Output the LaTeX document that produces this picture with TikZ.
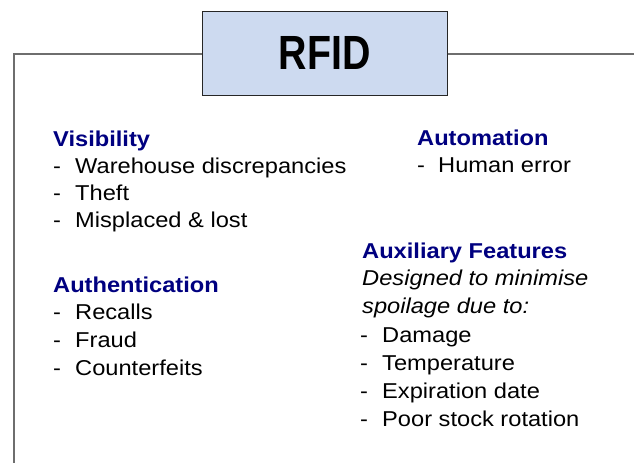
\documentclass[tikz,border=0pt]{standalone}
\usepackage{fontspec}
\setmainfont{Liberation Sans}
\newfontfamily\bodyfont[FakeStretch=1.1]{Liberation Sans}
\newfontfamily\titlefont[FakeStretch=0.82]{Liberation Sans}
\definecolor{headnavy}{RGB}{0,0,128}
\definecolor{boxfill}{RGB}{205,218,240}
\definecolor{frameline}{RGB}{110,110,110}
\newcommand{\dashitem}[1]{\makebox[22pt][l]{-}#1}
\begin{document}
\begin{tikzpicture}[x=1pt,y=-1pt,
  head/.style={anchor=base west, inner sep=0pt, text=headnavy, font=\bodyfont\fontsize{21.5}{26}\selectfont\bfseries},
  item/.style={anchor=base west, inner sep=0pt, text=black, font=\bodyfont\fontsize{21.5}{26}\selectfont},
  note/.style={anchor=base west, inner sep=0pt, text=black, font=\bodyfont\fontsize{21.5}{26}\selectfont\itshape},
  titlebox/.style={draw=black!85, line width=1pt, fill=boxfill, minimum width=245pt, minimum height=84pt, inner sep=0pt, font=\titlefont\fontsize{48}{52}\selectfont\bfseries},
  frame/.style={draw=frameline, line width=1.3pt}]
\useasboundingbox (0,0) rectangle (634,463);
% frame
\coordinate (tl) at (14,54);
\coordinate (bl) at (14,463);
\coordinate (tr) at (634,54);
\node[titlebox] (rfid) at (324.5,53) {RFID};
\draw[frame] (rfid.west |- tl) -- (tl) -- (bl);
\draw[frame] (rfid.east |- tr) -- (tr);
% left column
\node[head] (vis) at (53,146) {Visibility};
\node[item] (vis1) at (53,173) {\dashitem{Warehouse discrepancies}};
\node[item] (vis2) at (53,200) {\dashitem{Theft}};
\node[item] (vis3) at (53,227) {\dashitem{Misplaced \& lost}};
\node[head] (auth) at (53,292) {Authentication};
\node[item] (auth1) at (53,319) {\dashitem{Recalls}};
\node[item] (auth2) at (53,347) {\dashitem{Fraud}};
\node[item] (auth3) at (53,375) {\dashitem{Counterfeits}};
% right column
\node[head] (auto) at (417,145) {Automation};
\node[item] (auto1) at (417,172) {\makebox[21pt][l]{-}Human error};
\node[head] (aux) at (362,258) {Auxiliary Features};
\node[note] (auxn1) at (362,285) {Designed to minimise};
\node[note] (auxn2) at (362,313) {spoilage due to:};
\node[item] (aux1) at (360,342) {\dashitem{Damage}};
\node[item] (aux2) at (360,370) {\dashitem{Temperature}};
\node[item] (aux3) at (360,398) {\dashitem{Expiration date}};
\node[item] (aux4) at (360,426) {\dashitem{Poor stock rotation}};
\end{tikzpicture}
\end{document}
